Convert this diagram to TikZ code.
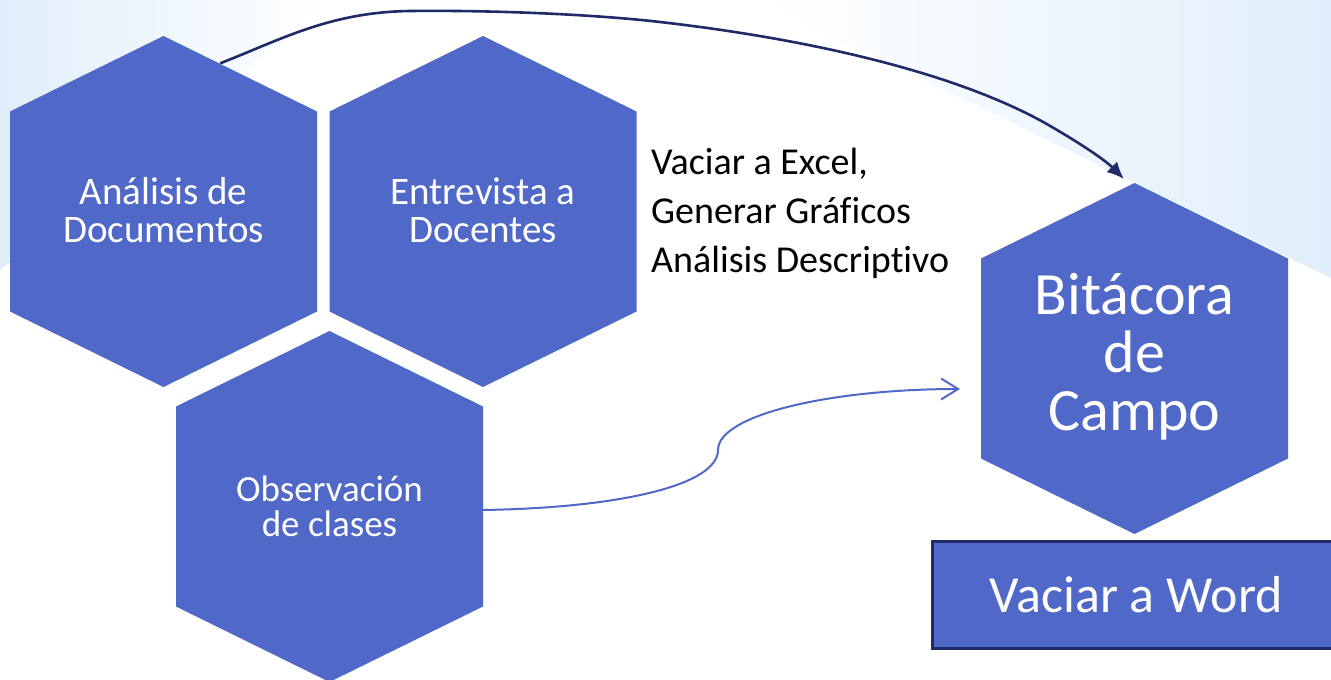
\documentclass[tikz,border=0pt]{standalone}
\usepackage{fontspec}
\setmainfont{Carlito}[Ligatures=NoCommon]
\usetikzlibrary{arrows.meta}
\definecolor{hexblue}{RGB}{80,104,200}
\definecolor{navy}{RGB}{31,42,104}
\definecolor{bgblue}{RGB}{224,238,251}
\begin{document}
\begin{tikzpicture}[x=1pt,y=-1pt,
  hexa/.pic={\fill[hexblue] (-153.5,-100) -- (0,-175.5) -- (153.5,-100) -- (153.5,100) -- (0,175.5) -- (-153.5,100) -- cycle;},
  hextext/.style={text=white, align=center, inner sep=0pt, font=\fontsize{39}{38}\selectfont},
  plaintext/.style={text=black, align=left, inner sep=0pt, font=\fontsize{38}{49}\selectfont},
  wordbox/.style={draw=navy, line width=2.5pt, fill=hexblue, text=white, inner sep=0pt, font=\fontsize{52}{52}\selectfont},
  navyarrow/.style={navy, line width=2.6pt, line cap=round, line join=round, -{Latex[length=17pt,width=15pt]}},
  bluearrow/.style={hexblue, line width=2pt, -{Straight Barb[length=17pt,width=21pt]}}
]
\useasboundingbox (0,0) rectangle (1331,680);
\clip (0,0) rectangle (1331,680);
\fill[white] (0,0) rectangle (1331,680);
% background tints
\shade[left color=bgblue, right color=white] (0,0) -- (330,0) -- (0,270) -- cycle;
\shade[left color=white, right color=bgblue] (760,0) -- (1331,0) -- (1331,278) -- cycle;
% hexagons
\pic at (163.5,211.5) {hexa};
\pic at (483,211.5) {hexa};
\pic at (329.5,506.5) {hexa};
\pic at (1134.5,358.5) {hexa};
% texts
\node[hextext] (t1) at (163.5,210) {Análisis de\\Documentos};
\node[hextext] (t2) at (483,210) {Entrevista a\\Docentes};
\node[hextext, font=\fontsize{37}{35}\selectfont] (t3) at (329.5,506) {Observación\\de clases};
\node[hextext, font=\fontsize{60}{58}\selectfont] (t4) at (1134.5,357) {Bitácora\\de\\Campo};
\node[wordbox, minimum width=408pt, minimum height=107pt, anchor=north west] (w) at (931,540) {Vaciar a Word};
\node[plaintext, anchor=north west] (ex) at (651,148) {Vaciar a Excel,\\Generar Gráficos\\Análisis Descriptivo};
% connectors
\coordinate (s1) at (221,63);
\coordinate (e1) at (1124,179);
\draw[navyarrow] (s1) .. controls (280,40) and (330,12) .. (410,11)
  .. controls (500,10) and (600,15) .. (660,22)
  .. controls (800,38) and (950,70) .. (1045,123)
  .. controls (1080,143) and (1105,160) .. (e1);
\coordinate (s3) at (482,510);
\coordinate (e3) at (960,389);
\draw[bluearrow] (s3) .. controls (620,508) and (718,485) .. (718,450) .. controls (718,415) and (830,389) .. (e3);
\end{tikzpicture}
\end{document}
